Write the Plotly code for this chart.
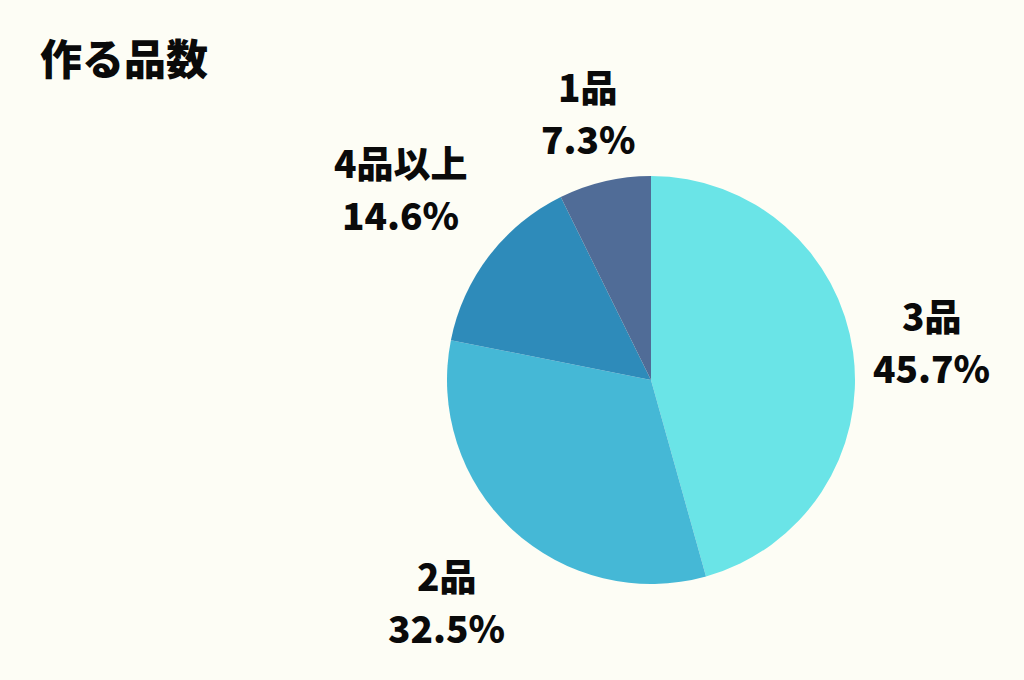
import math
import plotly.graph_objects as go

labels = ["3品", "2品", "4品以上", "1品"]
values = [45.7, 32.5, 14.6, 7.3]
colors = ["#6ae4e7", "#45b8d6", "#2e8bba", "#506c97"]

W, H = 1024, 680
cx, cy, r = 651, 380, 204
# how far out each label sits, in pie radii
label_dist = [1.39, 1.475, 1.545, 1.35]
line_gap = 26

fig = go.Figure()
fig.add_trace(go.Pie(
    labels=labels,
    values=values,
    sort=False,
    direction='clockwise',
    rotation=0,
    marker=dict(colors=colors, line=dict(width=0)),
    textinfo='none',
    hoverinfo='label+percent',
    domain=dict(x=[(cx - r) / W, (cx + r) / W], y=[1 - (cy + r) / H, 1 - (cy - r) / H]),
))

font = dict(size=37, color='#0a0a0a', family='Noto Sans CJK JP', weight=900)

# place labels outside each slice, at the slice's mid angle
total = sum(values)
acc = 0
for lab, v, d in zip(labels, values, label_dist):
    mid = (acc + v / 2) / total * 2 * math.pi
    acc += v
    px = cx + d * r * math.sin(mid)
    py = cy - d * r * math.cos(mid)
    for txt, dy in ((lab, -line_gap), (f"{v:.1f}%", line_gap)):
        fig.add_annotation(
            x=px / W, y=1 - (py + dy) / H, xref='paper', yref='paper',
            xanchor='center', yanchor='middle',
            text=txt, showarrow=False, font=font,
        )

fig.update_layout(
    width=W, height=H,
    margin=dict(l=0, r=0, t=0, b=0),
    paper_bgcolor='#fdfdf5',
    plot_bgcolor='#fdfdf5',
    showlegend=False,
    title=dict(
        text="作る品数", x=40 / W, xanchor='left', y=1 - 60 / H, yanchor='middle',
        font=dict(size=42, color='#0a0a0a', family='Noto Sans CJK JP', weight=900),
    ),
)

fig.write_html(
    "out.html",
    config=dict(displayModeBar=False),
    post_script="document.body.style.margin='0';document.body.style.background='#fdfdf5';",
)
